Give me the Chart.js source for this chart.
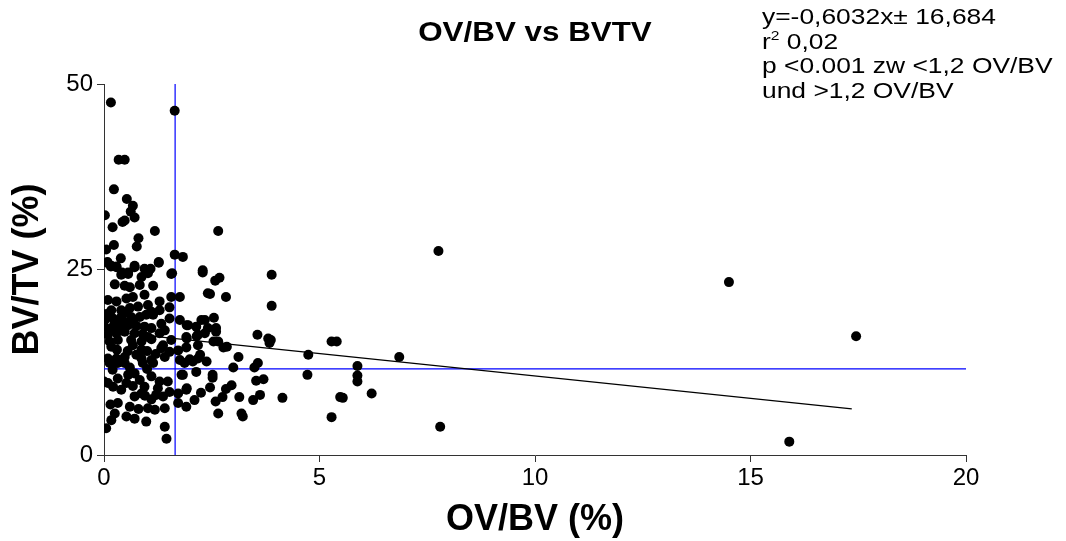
<!DOCTYPE html>
<html>
<head>
<meta charset="utf-8">
<script src="https://cdn.jsdelivr.net/npm/chart.js@4.4.1/dist/chart.umd.min.js"></script>
<style>
  html, body { margin: 0; padding: 0; background: #fff; }
  #wrap { position: relative; width: 1066px; height: 541px; }
  #c { position: absolute; left: 0; top: 0; }
  .t { position: absolute; font-family: "Liberation Sans", Arial, sans-serif; color: #000; white-space: nowrap; }
  #title { left: 535px; top: 15px; font-weight: bold; font-size: 28px; line-height: 34px; transform: translateX(-50%) scaleX(1.12); }
  #note { left: 762px; top: 5px; font-size: 22px; line-height: 24.5px; transform-origin: 0 0; transform: scaleX(1.2); }
  #note sup { font-size: 13px; vertical-align: 9px; line-height: 0; }
</style>
</head>
<body>
<div id="wrap">
  <canvas id="c" width="1066" height="541"></canvas>
  <div class="t" id="title">OV/BV vs BVTV</div>
  <div class="t" id="note">y=-0,6032x± 16,684<br>r<sup>2</sup> 0,02<br>p &lt;0.001 zw &lt;1,2 OV/BV<br>und &gt;1,2 OV/BV</div>
</div>
<script>
// OV/BV (%) values
const ovbv = [
  0.16, 1.64, 0.34, 0.48, 0.23, 0.53, 0.67, 0.02, 0.62, 0.71, 0.43, 0.48, 0.20, 1.18, 2.65, 0.80, 0.23, 0.76, 0.05, 0.39,
  1.64, 1.83, 0.08, 0.71, 1.27, 0.16, 0.29, 0.94, 1.08, 2.29, 2.29, 2.58, 2.68, 3.89, 2.46, 2.83, 3.89, 2.34, 2.55, 2.60,
  2.34, 2.60, 2.54, 2.65, 2.77, 2.85, 3.56, 3.81, 3.84, 2.23, 2.38, 3.12, 3.00, 3.49, 3.57, 4.74, 4.72, 5.28, 5.40, 2.52,
  2.52, 3.53, 3.70, 2.46, 2.96, 2.83, 2.25, 3.14, 2.75, 3.62, 3.46, 4.14, 2.59, 2.65, 3.19, 3.22, 5.28, 5.48, 7.76, 3.87,
  6.85, 5.88, 5.88, 5.88, 5.54, 6.21, 7.80, 14.50, 17.45, 15.90, 0.08, 0.17, 0.29, 0.71, 1.27, 0.42, 0.56, 1.58, 0.40, 0.56,
  0.87, 1.02, 1.56, 0.25, 0.48, 0.60, 0.83, 1.14, 2.41, 0.09, 0.29, 0.52, 0.67, 0.94, 1.29, 1.56, 1.76, 0.17, 0.40, 0.60,
  0.79, 1.02, 1.10, 1.29, 1.52, 0.02, 0.21, 0.40, 0.63, 0.83, 0.98, 1.14, 1.52, 1.76, 1.95, 2.14, 2.26, 0.00, 0.17, 0.36,
  0.56, 0.75, 0.94, 1.10, 1.33, 1.41, 0.09, 0.29, 0.48, 0.71, 0.90, 1.02, 1.29, 0.13, 0.32, 0.63, 0.87, 1.10, 1.37, 1.56,
  1.91, 2.18, 2.41, 0.17, 0.67, 0.87, 1.33, 1.52, 1.72, 1.91, 2.18, 0.09, 0.29, 0.48, 0.87, 1.10, 1.41, 1.76, 1.99, 2.18,
  0.13, 0.32, 0.48, 0.90, 1.14, 1.87, 2.06, 0.09, 0.21, 0.32, 0.56, 0.71, 0.52, 0.67, 0.83, 0.94, 1.10, 1.29, 1.48, 1.83,
  2.14, 0.32, 0.71, 0.87, 1.21, 1.37, 1.52, 1.72, 1.91, 1.72, 1.91, 2.10, 1.02, 1.18, 1.41, 0.25, 0.52, 0.71, 0.98, 0.17,
  0.05, 1.41, 1.45, 0.00, 2.15, 1.92, 1.80, 1.92, 1.92,
  0.05, 0.25, 0.45, 0.68, 0.50, 0.30, 0.55, 1.00, 0.75, 1.20, 0.20, 0.60, 1.00, 0.40, 0.95, 1.25, 0.60, 0.15, 1.10, 0.80
];
// BV/TV (%) values
const bvtv = [
  47.5, 46.4, 39.8, 39.8, 35.8, 34.5, 33.6, 32.3, 32.8, 32.0, 31.4, 31.6, 30.7, 30.2, 30.2, 29.2, 28.3, 28.1, 27.7, 26.5,
  27.0, 26.7, 25.9, 25.5, 25.9, 25.4, 25.4, 25.1, 25.1, 24.9, 24.6, 23.5, 23.9, 24.3, 21.7, 21.3, 20.1, 18.2, 18.5, 17.1,
  16.4, 16.6, 15.3, 15.3, 14.5, 14.6, 16.2, 15.7, 15.1, 13.5, 12.6, 13.2, 11.8, 11.8, 12.4, 13.5, 10.8, 15.3, 15.3, 10.8,
  10.4, 10.0, 10.2, 9.1, 9.4, 8.9, 8.4, 7.8, 7.8, 8.1, 7.4, 7.7, 7.2, 5.6, 5.6, 5.2, 5.1, 7.8, 27.5, 15.5,
  13.2, 12.0, 10.7, 9.9, 7.7, 8.3, 3.8, 23.3, 16.0, 1.8, 26.0, 25.5, 25.3, 25.3, 26.0, 24.6, 24.6, 24.5, 24.3, 24.4,
  24.0, 24.5, 24.4, 23.0, 22.8, 22.6, 22.9, 22.8, 21.8, 20.9, 20.7, 21.1, 21.3, 21.6, 20.7, 21.3, 21.3, 19.5, 19.5, 19.8,
  20.0, 20.2, 19.3, 19.5, 19.9, 18.2, 18.4, 18.6, 18.6, 18.6, 18.9, 18.9, 18.4, 18.2, 17.5, 17.3, 18.2, 17.3, 17.1, 17.3,
  17.5, 17.4, 17.3, 17.1, 17.7, 16.8, 16.2, 16.4, 16.6, 16.4, 16.3, 15.9, 16.4, 15.3, 15.5, 15.5, 15.3, 15.6, 14.8, 15.5,
  15.9, 16.2, 17.1, 14.6, 14.8, 14.2, 14.4, 13.9, 14.1, 14.5, 14.8, 13.0, 13.0, 13.2, 13.0, 12.8, 13.2, 12.8, 12.9, 13.0,
  12.4, 12.4, 12.4, 12.4, 12.4, 12.4, 12.6, 9.7, 9.2, 10.3, 10.8, 11.0, 9.7, 9.3, 10.1, 9.2, 10.6, 9.9, 9.9, 10.8,
  11.2, 7.0, 7.9, 8.3, 8.1, 7.9, 8.5, 8.3, 8.8, 7.0, 6.5, 7.4, 6.3, 6.1, 6.3, 5.6, 5.2, 4.9, 4.5, 4.7,
  3.6, 3.8, 2.2, 9.9, 16.0, 15.7, 10.8, 9.0, 17.5,
  19.0, 17.9, 18.0, 17.9, 19.2, 14.2, 14.0, 14.0, 13.5, 13.6, 11.5, 11.8, 11.6, 8.8, 8.0, 9.0, 6.5, 6.8, 7.5, 6.2
];
// regression line y = -0.6032x + 16.684, drawn between these x values
const fitX = [0.1, 17.35];
const fitSlope = -0.6032;
const fitIntercept = 16.684;
// reference lines
const cutX = 1.65;      // vertical blue line (OV/BV)
const cutY = 11.6;      // horizontal blue line (BV/TV)
const xTicks = [0, 5, 10, 15, 20];
const yTicks = [0, 25, 50];

const points = ovbv.map((x, i) => ({ x: x, y: bvtv[i] }));
const fitPts = fitX.map(x => ({ x: x, y: fitSlope * x + fitIntercept }));

const FONT = '"Liberation Sans", Arial, sans-serif';

new Chart(document.getElementById('c'), {
  type: 'scatter',
  data: {
    datasets: [
      { data: [{ x: cutX, y: 0 }, { x: cutX, y: 50 }], type: 'line', showLine: true, borderColor: '#0000ff', borderWidth: 1.2, pointRadius: 0, order: 3 },
      { data: [{ x: 0, y: cutY }, { x: 20, y: cutY }], type: 'line', showLine: true, borderColor: '#0000ff', borderWidth: 1.2, pointRadius: 0, order: 3 },
      { data: points, backgroundColor: '#000', borderColor: '#000', pointRadius: 5, borderWidth: 0, order: 2 },
      { data: fitPts, type: 'line', showLine: true, borderColor: '#000', borderWidth: 1.2, pointRadius: 0, order: 1 }
    ]
  },
  options: {
    responsive: false,
    animation: false,
    events: [],
    layout: { padding: { left: 0, right: 100, top: 84, bottom: 0 } },
    plugins: { legend: { display: false }, tooltip: { enabled: false }, title: { display: false } },
    scales: {
      x: {
        type: 'linear', min: 0, max: 20,
        afterBuildTicks: s => { s.ticks = xTicks.map(v => ({ value: v })); },
        afterFit: s => { s.height = 86; },
        grid: { drawOnChartArea: false, drawTicks: true, tickLength: 7, color: '#333', lineWidth: 1 },
        border: { display: true, color: '#333', width: 1 },
        ticks: { color: '#000', font: { family: FONT, size: 24 }, padding: 2, maxRotation: 0 },
        title: { display: true, text: 'OV/BV (%)', color: '#000', font: { family: FONT, size: 36, weight: 'bold' }, padding: { top: 0, bottom: -1 } }
      },
      y: {
        type: 'linear', min: 0, max: 50,
        afterBuildTicks: s => { s.ticks = yTicks.map(v => ({ value: v })); },
        afterFit: s => { s.width = 104; },
        grid: { drawOnChartArea: false, drawTicks: true, tickLength: 7, color: '#333', lineWidth: 1 },
        border: { display: true, color: '#333', width: 1 },
        ticks: { color: '#000', font: { family: FONT, size: 24 }, padding: 4 },
        title: { display: true, text: 'BV/TV (%)', color: '#000', font: { family: FONT, size: 36, weight: 'bold' }, padding: { top: 6, bottom: 0 } }
      }
    }
  }
});
</script>
</body>
</html>
